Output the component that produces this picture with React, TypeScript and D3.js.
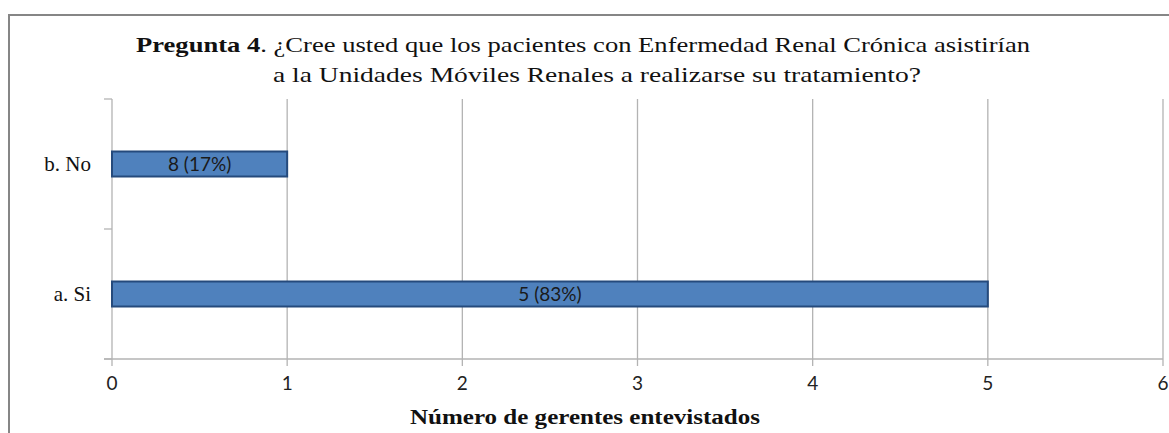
import React, { useEffect, useRef } from 'react';
import * as d3 from 'd3';

// data
const categories = ['b. No', 'a. Si'];
const counts = [1, 5];
const barLabels = ['8 (17%)', '5 (83%)'];
const xTicks = [0, 1, 2, 3, 4, 5, 6];
const titleBold = 'Pregunta 4';
const titleLine1 = '. ¿Cree usted que los pacientes con Enfermedad Renal Crónica asistirían';
const titleLine2 = 'a la Unidades Móviles Renales a realizarse su tratamiento?';
const xTitle = 'Número de gerentes entevistados';

const SERIF = 'Liberation Serif';
const SANS = 'Lato';

const App = () => {
  const svgRef = useRef<SVGSVGElement>(null);

  useEffect(() => {
    const svg = d3.select(svgRef.current);
    svg.selectAll('*').remove();

    const W = 1169;
    const H = 433;
    const plot = { left: 112, right: 1163, top: 99, bottom: 359 };

    svg.attr('width', W).attr('height', H);

    // white background + chart frame
    svg.append('rect').attr('width', W).attr('height', H).attr('fill', '#fff');
    svg.append('rect')
      .attr('x', 9).attr('y', 15)
      .attr('width', W + 20).attr('height', H + 20)
      .attr('fill', 'none')
      .attr('stroke', '#868686')
      .attr('stroke-width', 2);

    // scales
    const x = d3.scaleLinear().domain([0, 6]).range([plot.left, plot.right]);
    const y = d3.scaleBand().domain(categories).range([plot.top, plot.bottom]).padding(0);
    const barH = 25;

    // vertical gridlines (run past the axis as tick marks)
    svg.append('g')
      .selectAll('line')
      .data(xTicks)
      .enter()
      .append('line')
      .attr('x1', d => x(d)).attr('x2', d => x(d))
      .attr('y1', plot.top).attr('y2', plot.bottom + 7)
      .attr('stroke', '#b3b3b3')
      .attr('stroke-width', 1.3);

    // x axis line
    svg.append('line')
      .attr('x1', plot.left - 8).attr('x2', plot.right)
      .attr('y1', plot.bottom).attr('y2', plot.bottom)
      .attr('stroke', '#b3b3b3')
      .attr('stroke-width', 1.3);

    // category tick marks on the left
    const catEdges = [plot.top, ...categories.map(c => (y(c) as number) + y.bandwidth())];
    svg.append('g')
      .selectAll('line')
      .data(catEdges)
      .enter()
      .append('line')
      .attr('x1', plot.left - 8).attr('x2', plot.left)
      .attr('y1', d => d).attr('y2', d => d)
      .attr('stroke', '#b3b3b3')
      .attr('stroke-width', 1.3);

    // x tick labels
    svg.append('g')
      .selectAll('text')
      .data(xTicks)
      .enter()
      .append('text')
      .attr('x', d => x(d))
      .attr('y', 390)
      .attr('text-anchor', 'middle')
      .attr('font-family', SANS)
      .attr('font-size', 19)
      .attr('fill', '#222')
      .text(d => d);

    // category labels
    svg.append('g')
      .selectAll('text')
      .data(categories)
      .enter()
      .append('text')
      .attr('x', 91)
      .attr('y', d => (y(d) as number) + y.bandwidth() / 2)
      .attr('dy', '0.35em')
      .attr('text-anchor', 'end')
      .attr('font-family', SERIF)
      .attr('font-size', 21)
      .attr('fill', '#111')
      .text(d => d);

    // bars
    svg.append('g')
      .selectAll('rect')
      .data(categories)
      .enter()
      .append('rect')
      .attr('x', x(0))
      .attr('y', d => (y(d) as number) + y.bandwidth() / 2 - barH / 2)
      .attr('width', (d, i) => x(counts[i]) - x(0))
      .attr('height', barH)
      .attr('fill', '#4f81bd')
      .attr('stroke', '#254a7c')
      .attr('stroke-width', 2);

    // bar labels
    svg.append('g')
      .selectAll('text')
      .data(categories)
      .enter()
      .append('text')
      .attr('x', (d, i) => (x(0) + x(counts[i])) / 2)
      .attr('y', d => (y(d) as number) + y.bandwidth() / 2)
      .attr('dy', '0.36em')
      .attr('text-anchor', 'middle')
      .attr('font-family', SANS)
      .attr('font-size', 19)
      .attr('fill', '#1a1a1a')
      .text((d, i) => barLabels[i]);

    // title
    const t1 = svg.append('text')
      .attr('x', 136).attr('y', 52)
      .attr('textLength', 894)
      .attr('lengthAdjust', 'spacingAndGlyphs')
      .attr('font-family', SERIF)
      .attr('font-size', 22)
      .attr('fill', '#111');
    t1.append('tspan').attr('font-weight', 'bold').text(titleBold);
    t1.append('tspan').text(titleLine1);

    svg.append('text')
      .attr('x', 273).attr('y', 82)
      .attr('textLength', 648)
      .attr('lengthAdjust', 'spacingAndGlyphs')
      .attr('font-family', SERIF)
      .attr('font-size', 22)
      .attr('fill', '#111')
      .text(titleLine2);

    // x axis title
    svg.append('text')
      .attr('x', 410).attr('y', 424)
      .attr('textLength', 350)
      .attr('lengthAdjust', 'spacingAndGlyphs')
      .attr('font-family', SERIF)
      .attr('font-size', 20)
      .attr('font-weight', 'bold')
      .attr('fill', '#111')
      .text(xTitle);
  }, []);

  return (
    <div style={{ position: 'absolute', left: 0, top: 0 }}>
      <svg ref={svgRef} style={{ display: 'block' }}></svg>
    </div>
  );
};

export default App;
